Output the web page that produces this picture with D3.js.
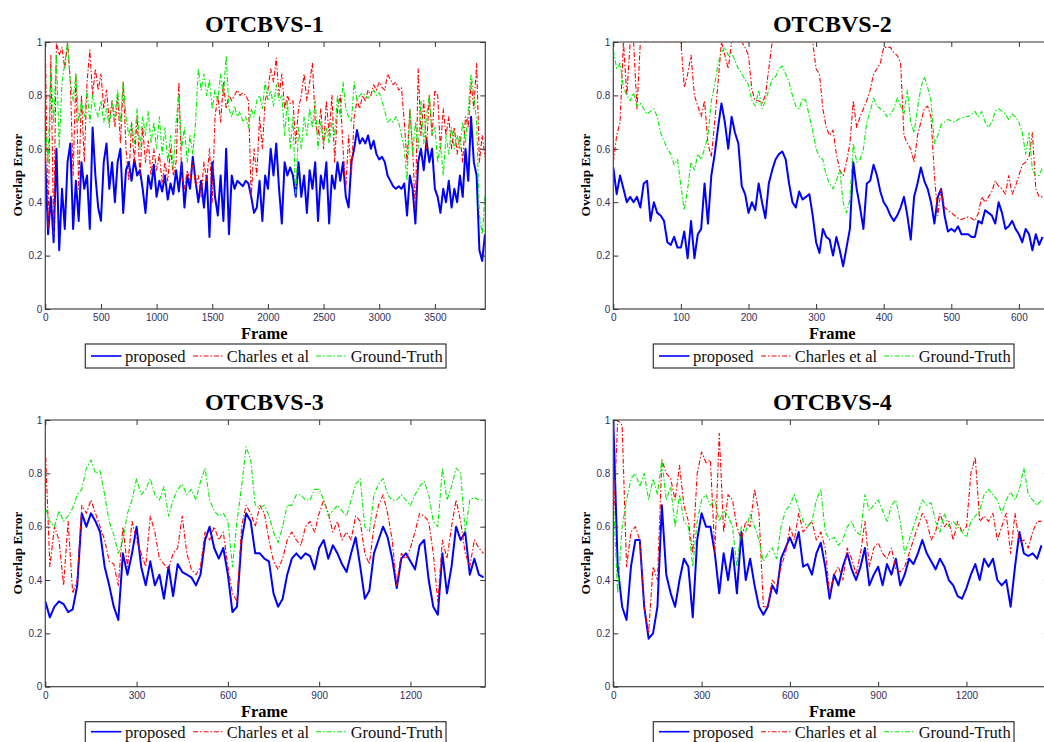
<!DOCTYPE html>
<html>
<head>
<meta charset="utf-8">
<script src="https://cdn.jsdelivr.net/npm/d3@7"></script>
<style>
  body { margin: 0; background: #fff; }
  svg { display: block; }
  .tick text { font-family: "Liberation Sans", Arial, sans-serif; font-size: 10px; fill: #2e2e5e; }
  .tick line { stroke: #333; }
</style>
</head>
<body>
<div id="chart"></div>
<script>
const titles = ['OTCBVS-1', 'OTCBVS-2', 'OTCBVS-3', 'OTCBVS-4'];
const seriesNames = ['proposed', 'Charles et al', 'Ground-Truth'];
const yTicks = [0, 0.2, 0.4, 0.6, 0.8, 1];
const xTicks1 = [0, 500, 1000, 1500, 2000, 2500, 3000, 3500];
const xTicks2 = [0, 100, 200, 300, 400, 500, 600];
const xTicks3 = [0, 300, 600, 900, 1200];
const xTicks4 = [0, 300, 600, 900, 1200];

// frames between two read values
const step1 = 25, step2 = 5, step3 = 15, step4 = 15;

const p1Proposed = [
  0.55,0.28,0.42,0.25,0.6,0.22,0.45,0.3,0.55,0.62,
  0.3,0.48,0.33,0.55,0.45,0.5,0.3,0.68,0.5,0.38,
  0.33,0.55,0.62,0.45,0.55,0.4,0.55,0.6,0.36,0.52,
  0.55,0.48,0.56,0.5,0.52,0.45,0.36,0.5,0.45,0.54,
  0.42,0.48,0.44,0.5,0.41,0.47,0.43,0.52,0.44,0.55,
  0.38,0.5,0.45,0.57,0.48,0.4,0.48,0.38,0.5,0.27,
  0.55,0.42,0.35,0.5,0.33,0.6,0.28,0.5,0.45,0.48,
  0.47,0.46,0.48,0.47,0.42,0.36,0.38,0.48,0.33,0.5,
  0.45,0.6,0.5,0.62,0.45,0.32,0.55,0.5,0.53,0.5,
  0.42,0.55,0.42,0.5,0.36,0.52,0.45,0.55,0.33,0.5,
  0.45,0.55,0.32,0.5,0.45,0.55,0.48,0.55,0.42,0.38,
  0.55,0.6,0.67,0.62,0.64,0.62,0.65,0.6,0.63,0.58,
  0.56,0.57,0.55,0.5,0.48,0.46,0.45,0.46,0.45,0.47,
  0.35,0.5,0.45,0.32,0.55,0.6,0.52,0.63,0.55,0.6,
  0.45,0.42,0.36,0.45,0.4,0.48,0.38,0.45,0.4,0.5,
  0.42,0.6,0.48,0.72,0.55,0.5,0.22,0.18,0.28
];
const p1Charles = [
  1.0,0.3,0.95,0.28,1.0,0.95,0.98,0.9,1.0,0.85,
  0.5,0.88,0.45,0.8,0.55,0.85,0.97,0.8,0.9,0.82,
  0.88,0.75,0.82,0.7,0.78,0.68,0.8,0.62,0.85,0.6,
  0.48,0.7,0.55,0.72,0.5,0.68,0.55,0.63,0.5,0.6,
  0.52,0.58,0.47,0.55,0.48,0.6,0.5,0.55,0.85,0.5,
  0.45,0.52,0.48,0.55,0.46,0.5,0.42,0.55,0.48,0.6,
  0.4,0.72,0.8,0.7,0.85,0.75,0.8,0.78,0.8,0.82,
  0.8,0.81,0.8,0.78,0.42,0.6,0.5,0.72,0.6,0.78,
  0.82,0.9,0.85,0.94,0.8,0.88,0.75,0.8,0.77,0.78,
  0.62,0.75,0.8,0.88,0.78,0.85,0.92,0.7,0.65,0.75,
  0.6,0.78,0.65,0.8,0.55,0.75,0.8,0.6,0.45,0.65,
  0.5,0.72,0.78,0.75,0.8,0.78,0.82,0.8,0.84,0.82,
  0.85,0.83,0.82,0.88,0.86,0.84,0.85,0.82,0.83,0.7,
  0.55,0.75,0.6,0.37,0.9,0.65,0.78,0.6,0.8,0.65,
  0.82,0.8,0.6,0.75,0.65,0.72,0.6,0.68,0.58,0.65,
  0.55,0.72,0.68,0.85,0.75,0.92,0.55,0.65,0.57
];
const p1Truth = [
  0.68,0.55,0.9,0.7,0.95,0.6,0.85,0.92,1.0,0.85,
  0.78,0.88,0.7,0.78,0.72,0.82,0.7,0.8,0.75,0.72,
  0.78,0.7,0.75,0.68,0.78,0.72,0.82,0.7,0.85,0.72,
  0.65,0.7,0.62,0.75,0.6,0.72,0.65,0.74,0.62,0.7,
  0.6,0.72,0.58,0.68,0.55,0.65,0.52,0.7,0.8,0.6,
  0.68,0.55,0.65,0.58,0.7,0.9,0.82,0.88,0.8,0.86,
  0.75,0.82,0.78,0.88,0.8,0.95,0.75,0.72,0.76,0.72,
  0.74,0.7,0.72,0.68,0.75,0.72,0.78,0.8,0.75,0.85,
  0.78,0.82,0.76,0.84,0.78,0.8,0.65,0.78,0.6,0.72,
  0.42,0.68,0.6,0.72,0.65,0.75,0.68,0.78,0.6,0.7,
  0.62,0.68,0.62,0.7,0.65,0.8,0.72,0.85,0.75,0.72,
  0.7,0.85,0.78,0.8,0.81,0.8,0.79,0.8,0.82,0.8,
  0.81,0.78,0.74,0.7,0.71,0.7,0.72,0.7,0.65,0.6,
  0.48,0.75,0.58,0.7,0.6,0.78,0.62,0.72,0.8,0.65,
  0.68,0.55,0.62,0.5,0.65,0.58,0.68,0.6,0.65,0.6,
  0.7,0.62,0.75,0.88,0.8,0.7,0.35,0.28,0.42
];

const p2Proposed = [
  0.53,0.43,0.5,0.45,0.4,0.42,0.4,0.42,0.38,0.47,
  0.48,0.33,0.4,0.36,0.35,0.33,0.25,0.24,0.27,0.23,
  0.23,0.29,0.19,0.33,0.19,0.28,0.3,0.47,0.32,0.5,
  0.58,0.68,0.77,0.7,0.6,0.72,0.66,0.62,0.46,0.43,
  0.36,0.4,0.37,0.47,0.4,0.34,0.47,0.52,0.56,0.58,
  0.59,0.56,0.47,0.4,0.38,0.44,0.41,0.42,0.43,0.35,
  0.25,0.21,0.3,0.27,0.26,0.2,0.27,0.22,0.16,0.23,
  0.3,0.55,0.45,0.38,0.3,0.47,0.48,0.54,0.5,0.44,
  0.4,0.38,0.35,0.33,0.35,0.38,0.42,0.35,0.26,0.42,
  0.47,0.53,0.48,0.45,0.4,0.32,0.42,0.45,0.35,0.29,
  0.3,0.29,0.31,0.28,0.28,0.28,0.27,0.27,0.33,0.32,
  0.37,0.36,0.35,0.32,0.4,0.36,0.3,0.31,0.33,0.3,
  0.28,0.25,0.3,0.28,0.22,0.28,0.24,0.27
];
const p2Charles = [
  0.55,0.65,0.7,1.0,0.8,1.0,1.0,0.75,1.0,1.0,
  1,1,1,1,1,1,1,1,1,1,
  1.0,0.83,0.88,0.95,0.8,0.76,0.72,0.78,0.62,0.57,
  0.7,0.85,1.0,0.95,0.9,1.0,1.0,1.0,1.0,0.98,
  0.95,0.82,0.78,0.78,0.77,0.8,0.9,1.0,1.0,1.0,
  1,1,1,1,1,1,1,1,1,1,
  0.9,0.88,0.75,0.68,0.65,0.67,0.58,0.52,0.5,0.55,
  0.62,0.78,0.68,0.72,0.75,0.78,0.82,0.88,0.9,0.92,
  0.98,0.98,0.98,0.96,0.95,0.92,0.65,0.62,0.6,0.55,
  0.65,0.7,0.75,0.76,0.72,0.5,0.35,0.45,0.38,0.37,
  0.36,0.35,0.34,0.335,0.34,0.345,0.34,0.33,0.36,0.42,
  0.4,0.42,0.44,0.48,0.46,0.45,0.43,0.5,0.43,0.46,
  0.5,0.54,0.55,0.57,0.66,0.45,0.42,0.42
];
const p2Truth = [
  0.97,0.9,0.92,0.83,0.8,0.78,0.81,0.76,0.77,0.75,
  0.73,0.74,0.75,0.72,0.66,0.63,0.6,0.58,0.54,0.56,
  0.46,0.37,0.45,0.55,0.52,0.58,0.56,0.6,0.65,0.78,
  0.84,0.92,0.96,0.98,0.95,0.96,0.93,0.9,0.88,0.86,
  0.84,0.78,0.76,0.82,0.75,0.78,0.82,0.86,0.87,0.9,
  0.91,0.88,0.85,0.8,0.76,0.75,0.79,0.78,0.72,0.67,
  0.6,0.57,0.56,0.5,0.47,0.45,0.48,0.52,0.4,0.36,
  0.41,0.62,0.55,0.56,0.6,0.7,0.74,0.79,0.76,0.75,
  0.74,0.72,0.73,0.75,0.79,0.76,0.73,0.82,0.7,0.66,
  0.75,0.83,0.87,0.83,0.78,0.62,0.65,0.69,0.7,0.71,
  0.705,0.7,0.71,0.715,0.72,0.72,0.73,0.74,0.72,0.74,
  0.7,0.68,0.7,0.74,0.75,0.74,0.73,0.71,0.73,0.72,
  0.7,0.66,0.58,0.66,0.52,0.5,0.5,0.53
];

const p3Proposed = [
  0.32,0.26,0.3,0.32,0.31,0.28,0.29,0.38,0.65,0.6,
  0.65,0.62,0.58,0.45,0.38,0.3,0.25,0.5,0.42,0.5,
  0.6,0.45,0.38,0.47,0.38,0.42,0.33,0.45,0.34,0.46,
  0.43,0.42,0.41,0.38,0.42,0.55,0.6,0.52,0.48,0.52,
  0.42,0.28,0.3,0.55,0.65,0.62,0.5,0.5,0.48,0.47,
  0.35,0.3,0.33,0.42,0.48,0.5,0.48,0.5,0.49,0.44,
  0.52,0.55,0.48,0.53,0.5,0.46,0.43,0.5,0.56,0.45,
  0.33,0.36,0.5,0.55,0.6,0.56,0.48,0.37,0.48,0.5,
  0.47,0.44,0.53,0.55,0.4,0.3,0.27,0.5,0.35,0.45,
  0.6,0.55,0.58,0.42,0.48,0.42,0.41
];
const p3Charles = [
  0.9,0.45,0.6,0.55,0.38,0.62,0.35,0.4,0.68,0.65,
  0.7,0.65,0.6,0.55,0.47,0.46,0.38,0.6,0.45,0.62,
  0.55,0.5,0.45,0.64,0.58,0.48,0.46,0.44,0.5,0.52,
  0.64,0.5,0.44,0.42,0.45,0.58,0.55,0.6,0.55,0.58,
  0.45,0.35,0.32,0.6,0.68,0.65,0.6,0.68,0.65,0.55,
  0.47,0.44,0.48,0.55,0.58,0.55,0.53,0.6,0.62,0.58,
  0.65,0.7,0.65,0.58,0.62,0.55,0.58,0.55,0.64,0.62,
  0.5,0.46,0.6,0.68,0.72,0.65,0.55,0.38,0.5,0.48,
  0.52,0.58,0.65,0.64,0.62,0.5,0.32,0.55,0.48,0.6,
  0.7,0.62,0.5,0.45,0.55,0.52,0.5
];
const p3Truth = [
  0.67,0.62,0.6,0.66,0.62,0.64,0.67,0.72,0.74,0.82,
  0.85,0.8,0.81,0.72,0.62,0.57,0.5,0.55,0.65,0.7,
  0.78,0.72,0.74,0.78,0.72,0.7,0.75,0.64,0.7,0.74,
  0.76,0.72,0.74,0.7,0.77,0.82,0.7,0.66,0.64,0.65,
  0.62,0.45,0.62,0.75,0.9,0.85,0.68,0.67,0.68,0.64,
  0.58,0.54,0.6,0.68,0.68,0.72,0.72,0.7,0.7,0.74,
  0.74,0.7,0.64,0.66,0.68,0.66,0.64,0.7,0.76,0.78,
  0.6,0.58,0.72,0.76,0.78,0.72,0.7,0.7,0.72,0.7,
  0.68,0.72,0.75,0.77,0.72,0.62,0.6,0.82,0.7,0.75,
  0.82,0.8,0.58,0.7,0.71,0.7,0.7
];

const p4Proposed = [
  1.0,0.45,0.3,0.25,0.45,0.55,0.55,0.3,0.18,0.2,
  0.3,0.68,0.42,0.35,0.3,0.4,0.48,0.45,0.26,0.55,
  0.65,0.6,0.6,0.5,0.35,0.5,0.4,0.52,0.35,0.58,
  0.4,0.48,0.38,0.3,0.27,0.3,0.38,0.35,0.48,0.52,
  0.56,0.52,0.58,0.45,0.46,0.42,0.5,0.54,0.45,0.33,
  0.42,0.38,0.45,0.5,0.44,0.4,0.45,0.52,0.38,0.42,
  0.45,0.38,0.46,0.42,0.48,0.38,0.42,0.48,0.46,0.5,
  0.55,0.5,0.47,0.44,0.48,0.45,0.4,0.38,0.34,0.33,
  0.37,0.42,0.46,0.4,0.48,0.45,0.48,0.4,0.38,0.4,
  0.3,0.45,0.58,0.5,0.49,0.5,0.48,0.53
];
const p4Charles = [
  0.6,1.0,0.98,0.45,0.58,0.6,0.55,0.3,0.2,0.45,
  0.4,0.85,0.8,0.78,0.7,0.83,0.68,0.62,0.5,0.8,
  0.88,0.84,0.85,0.5,0.95,0.58,0.72,0.7,0.6,0.55,
  0.62,0.6,0.74,0.65,0.3,0.3,0.4,0.38,0.45,0.5,
  0.6,0.55,0.65,0.58,0.6,0.62,0.55,0.58,0.52,0.35,
  0.42,0.45,0.4,0.52,0.48,0.42,0.5,0.62,0.45,0.52,
  0.54,0.5,0.48,0.52,0.44,0.43,0.45,0.5,0.55,0.6,
  0.65,0.62,0.55,0.58,0.65,0.6,0.62,0.55,0.62,0.58,
  0.6,0.8,0.86,0.62,0.64,0.62,0.65,0.55,0.6,0.65,
  0.5,0.65,0.54,0.55,0.52,0.58,0.62,0.62
];
const p4Truth = [
  0.7,0.35,0.6,0.7,0.78,0.8,0.75,0.8,0.7,0.78,
  0.72,0.85,0.7,0.75,0.6,0.72,0.62,0.6,0.45,0.62,
  0.7,0.72,0.68,0.7,0.62,0.66,0.64,0.6,0.45,0.6,
  0.58,0.65,0.6,0.55,0.47,0.5,0.52,0.48,0.6,0.66,
  0.68,0.72,0.67,0.62,0.6,0.62,0.7,0.74,0.58,0.55,
  0.56,0.53,0.55,0.6,0.62,0.58,0.57,0.72,0.66,0.68,
  0.7,0.66,0.62,0.68,0.7,0.62,0.5,0.55,0.6,0.65,
  0.7,0.68,0.69,0.62,0.58,0.65,0.6,0.62,0.6,0.58,
  0.56,0.62,0.64,0.66,0.72,0.74,0.72,0.7,0.65,0.7,
  0.73,0.7,0.74,0.82,0.72,0.7,0.68,0.7
];

const W = 1044, H = 742;
const serif = '"Liberation Serif", "Times New Roman", serif';

const colors = ['#0000ff', '#ff0000', '#00ee00'];
const widths = [2, 1.1, 1.1];
const dashes = [null, '5,2,1.5,2', '5,2,1.5,2'];

const panels = [
  { title: titles[0], ticks: xTicks1, step: step1, series: [p1Proposed, p1Charles, p1Truth],
    left: 45.3, top: 42, bottom: 309, xMax: 3953, pxPerFrame: 440 / 3953, legendText: 18 },
  { title: titles[1], ticks: xTicks2, step: step2, series: [p2Proposed, p2Charles, p2Truth],
    left: 613.3, top: 42, bottom: 309, xMax: 650, pxPerFrame: 0.676, legendText: 18 },
  { title: titles[2], ticks: xTicks3, step: step3, series: [p3Proposed, p3Charles, p3Truth],
    left: 45.3, top: 420, bottom: 686.7, xMax: 1446, pxPerFrame: 440 / 1446, legendText: 16 },
  { title: titles[3], ticks: xTicks4, step: step4, series: [p4Proposed, p4Charles, p4Truth],
    left: 613.3, top: 420, bottom: 686.7, xMax: 1480, pxPerFrame: 0.2943, legendText: 16 },
];

const svg = d3.select('#chart')
  .append('svg')
  .attr('width', W)
  .attr('height', H);

svg.append('rect')
  .attr('width', W)
  .attr('height', H)
  .attr('fill', '#fff');

panels.forEach((p, k) => drawPanel(p, k));

function drawPanel(p, k) {
  const right = p.left + p.xMax * p.pxPerFrame;
  const x = d3.scaleLinear().domain([0, p.xMax]).range([p.left, right]);
  const y = d3.scaleLinear().domain([0, 1]).range([p.bottom, p.top]);
  const g = svg.append('g');

  g.append('clipPath')
    .attr('id', 'clip' + k)
    .append('rect')
    .attr('x', p.left)
    .attr('y', p.top - 1)
    .attr('width', right - p.left)
    .attr('height', p.bottom - p.top + 2);

  const lines = g.append('g').attr('clip-path', `url(#clip${k})`);
  p.series.forEach((vals, s) => {
    const line = d3.line()
      .x((d, i) => x(i * p.step))
      .y(d => y(d));
    lines.append('path')
      .datum(vals)
      .attr('d', line)
      .attr('fill', 'none')
      .attr('stroke', colors[s])
      .attr('stroke-width', widths[s])
      .attr('stroke-dasharray', dashes[s])
      .attr('stroke-linejoin', 'round');
  });

  // box
  g.append('rect')
    .attr('x', p.left)
    .attr('y', p.top)
    .attr('width', right - p.left)
    .attr('height', p.bottom - p.top)
    .attr('fill', 'none')
    .attr('stroke', '#444')
    .attr('stroke-width', 1.2);
  g.append('line')
    .attr('x1', p.left).attr('x2', right)
    .attr('y1', p.top).attr('y2', p.top)
    .attr('stroke', '#999')
    .attr('stroke-width', 1.4);

  const axB = g.append('g')
    .attr('transform', `translate(0,${p.bottom})`)
    .call(d3.axisBottom(x).tickValues(p.ticks).tickSizeInner(-5).tickSizeOuter(0).tickPadding(5)
      .tickFormat(d => String(d)));
  const axT = g.append('g')
    .attr('transform', `translate(0,${p.top})`)
    .call(d3.axisTop(x).tickValues(p.ticks).tickSizeInner(-5).tickSizeOuter(0).tickFormat(''));
  const axL = g.append('g')
    .attr('transform', `translate(${p.left},0)`)
    .call(d3.axisLeft(y).tickValues(yTicks).tickSizeInner(-5).tickSizeOuter(0).tickPadding(3)
      .tickFormat(d => String(d)));
  const axR = g.append('g')
    .attr('transform', `translate(${right},0)`)
    .call(d3.axisRight(y).tickValues(yTicks).tickSizeInner(-5).tickSizeOuter(0).tickFormat(''));
  [axB, axT, axL, axR].forEach(a => {
    a.select('.domain').remove();
    a.selectAll('.tick text').attr('font-family', null).attr('font-size', null);
  });

  // title and axis labels
  g.append('text')
    .attr('x', p.left + 219)
    .attr('y', p.top - 10.3)
    .attr('text-anchor', 'middle')
    .attr('font-family', serif)
    .attr('font-weight', 'bold')
    .attr('font-size', 24)
    .text(p.title);

  g.append('text')
    .attr('x', p.left + 219)
    .attr('y', p.bottom + 30.3)
    .attr('text-anchor', 'middle')
    .attr('font-family', serif)
    .attr('font-weight', 'bold')
    .attr('font-size', 16.5)
    .text('Frame');

  g.append('text')
    .attr('transform', `translate(${p.left - 23.8},${p.top + 133}) rotate(-90)`)
    .attr('text-anchor', 'middle')
    .attr('font-family', serif)
    .attr('font-weight', 'bold')
    .attr('font-size', 13.3)
    .text('Overlap Error');

  // legend
  const lg = g.append('g')
    .attr('transform', `translate(${p.left + 40},${p.bottom + 35})`);
  lg.append('rect')
    .attr('width', 360.7)
    .attr('height', 24)
    .attr('fill', '#fff')
    .attr('stroke', '#333')
    .attr('stroke-width', 1.2);
  const lineX = [5.7, 107.7, 230.7];
  const textX = [39.7, 141.4, 265.4];
  seriesNames.forEach((name, s) => {
    lg.append('line')
      .attr('x1', lineX[s]).attr('x2', lineX[s] + 30.5)
      .attr('y1', p.legendText - 6).attr('y2', p.legendText - 6)
      .attr('stroke', colors[s])
      .attr('stroke-width', s === 0 ? 1.6 : 1.1)
      .attr('stroke-dasharray', dashes[s]);
    lg.append('text')
      .attr('x', textX[s])
      .attr('y', p.legendText)
      .attr('font-family', serif)
      .attr('font-size', 16.5)
      .attr('fill', '#111')
      .text(name);
  });
}
</script>
</body>
</html>
